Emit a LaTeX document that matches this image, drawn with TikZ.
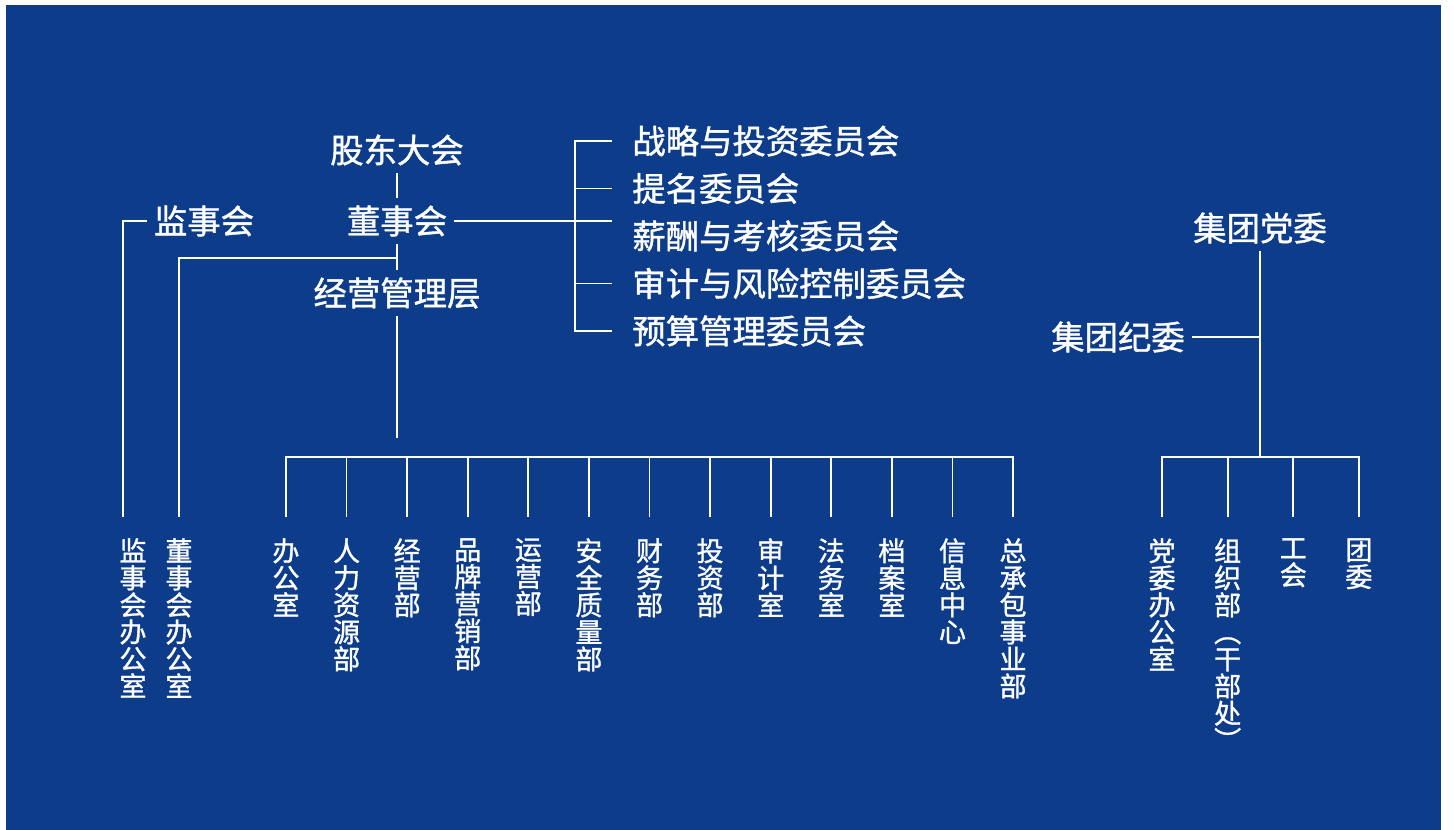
\documentclass[tikz,border=0pt]{standalone}
\usepackage{fontspec}
\usepackage{tikz}
\usetikzlibrary{positioning, calc}
\newfontfamily\cjk[FakeBold=1.2]{Noto Sans CJK SC}
\tikzset{
  unit/.style={text=white,font=\cjk\fontsize{19pt}{22pt}\selectfont,inner sep=0.14cm},
  unit_c/.style={unit,anchor=west,inner xsep=0.4cm},
  unit_v/.style={text=white,font=\cjk\fontsize{15.4pt}{15.4pt}\selectfont,align=center,anchor=north,inner xsep=0pt,inner ysep=0.42cm},
  link/.style={draw=white,line width=1pt},
}
\definecolor{org_darkblue}{HTML}{0C3C8A}
\colorlet{orgblue}{org_darkblue}

\begin{document}
\begin{tikzpicture}[x=0.02cm,y=-0.02cm]
	    \fill[white] (0,0) rectangle (1454,830);
	    \fill[orgblue] (6,5) rectangle (1441,830);
	    % board side
	    \node[unit] (gd) at (397,150) {股东大会};
	    \node[unit] (dsh) at (397,221) {董事会};
	    \node[unit] (jy) at (397,293) {经营管理层};
	    \node[unit] (js) at (204,221) {监事会};
	    \node[unit_c] (c1) at (612,141) {战略与投资委员会};
	    \node[unit_c,below=0.95cm of c1.west,anchor=west] (c2) {提名委员会};
	    \node[unit_c,below=0.95cm of c2.west,anchor=west] (c3) {薪酬与考核委员会};
	    \node[unit_c,below=0.95cm of c3.west,anchor=west] (c4) {审计与风险控制委员会};
	    \node[unit_c,below=0.95cm of c4.west,anchor=west] (c5) {预算管理委员会};
	    % party side
	    \node[unit] (dw) at (1260,228) {集团党委};
	    \node[unit] (jw) at (1118,337) {集团纪委};
	    % offices and departments
	    \node[unit_v] (jbg) at (133,517) {监\\事\\会\\办\\公\\室};
	    \node[unit_v] (dbg) at (179,517) {董\\事\\会\\办\\公\\室};
	    \node[unit_v] (d1) at (286,517) {办\\公\\室};
	    \node[unit_v,right=1.212cm of d1.north,anchor=north] (d2) {人\\力\\资\\源\\部};
	    \node[unit_v,right=1.212cm of d2.north,anchor=north] (d3) {经\\营\\部};
	    \node[unit_v,right=1.212cm of d3.north,anchor=north] (d4) {品\\牌\\营\\销\\部};
	    \node[unit_v,right=1.212cm of d4.north,anchor=north] (d5) {运\\营\\部};
	    \node[unit_v,right=1.212cm of d5.north,anchor=north] (d6) {安\\全\\质\\量\\部};
	    \node[unit_v,right=1.212cm of d6.north,anchor=north] (d7) {财\\务\\部};
	    \node[unit_v,right=1.212cm of d7.north,anchor=north] (d8) {投\\资\\部};
	    \node[unit_v,right=1.212cm of d8.north,anchor=north] (d9) {审\\计\\室};
	    \node[unit_v,right=1.212cm of d9.north,anchor=north] (d10) {法\\务\\室};
	    \node[unit_v,right=1.212cm of d10.north,anchor=north] (d11) {档\\案\\室};
	    \node[unit_v,right=1.212cm of d11.north,anchor=north] (d12) {信\\息\\中\\心};
	    \node[unit_v,right=1.212cm of d12.north,anchor=north] (d13) {总\\承\\包\\事\\业\\部};
	    \node[unit_v] (p1) at (1162,517) {党\\委\\办\\公\\室};
	    \node[unit_v,right=1.313cm of p1.north,anchor=north] (p2) {组\\织\\部\\︵\\干\\部\\处\\︶};
	    \node[unit_v,right=1.313cm of p2.north,anchor=north] (p3) {工\\会};
	    \node[unit_v,right=1.313cm of p3.north,anchor=north] (p4) {团\\委};
	    \coordinate (b1) at ($(dsh.south)!0.55!(jy.north)$);
	    \coordinate (jyend) at (397,438);
	    \coordinate (busA) at (397,457);
	    \coordinate (busP) at (dw.south |- busA);
	    \coordinate (br) at (575,221);
	    % connectors
	    \draw[link] (gd.south) -- (dsh.north);
	    \draw[link] (dsh.south) -- (jy.north);
	    \draw[link] (b1) -| (dbg.north);
	    \draw[link] (js.west) -| ([xshift=0.08cm]jbg.north west);
	    \draw[link] (dsh.east) -- (dsh.east -| c3.west);
	    \draw[link] (c1.west) -- (c1.west -| br) -- (c5.west -| br) -- (c5.west);
	    \draw[link] (c2.west) -- (c2.west -| br);
	    \draw[link] (c4.west) -- (c4.west -| br);
	    \draw[link] (jy.south) -- (jyend);
	    \draw[link] (d1.north) -- (d1.north |- busA) -- (d13.north |- busA) -- (d13.north);
	    \draw[link] (d2.north) -- (d2.north |- busA);
	    \draw[link] (d3.north) -- (d3.north |- busA);
	    \draw[link] (d4.north) -- (d4.north |- busA);
	    \draw[link] (d5.north) -- (d5.north |- busA);
	    \draw[link] (d6.north) -- (d6.north |- busA);
	    \draw[link] (d7.north) -- (d7.north |- busA);
	    \draw[link] (d8.north) -- (d8.north |- busA);
	    \draw[link] (d9.north) -- (d9.north |- busA);
	    \draw[link] (d10.north) -- (d10.north |- busA);
	    \draw[link] (d11.north) -- (d11.north |- busA);
	    \draw[link] (d12.north) -- (d12.north |- busA);
	    \draw[link] (dw.south) -- (busP);
	    \draw[link] (jw.east) -- (jw.east -| dw.south);
	    \draw[link] (p1.north) -- (p1.north |- busP) -- (p4.north |- busP) -- (p4.north);
	    \draw[link] (p2.north) -- (p2.north |- busP);
	    \draw[link] (p3.north) -- (p3.north |- busP);
	\end{tikzpicture}
\end{document}
